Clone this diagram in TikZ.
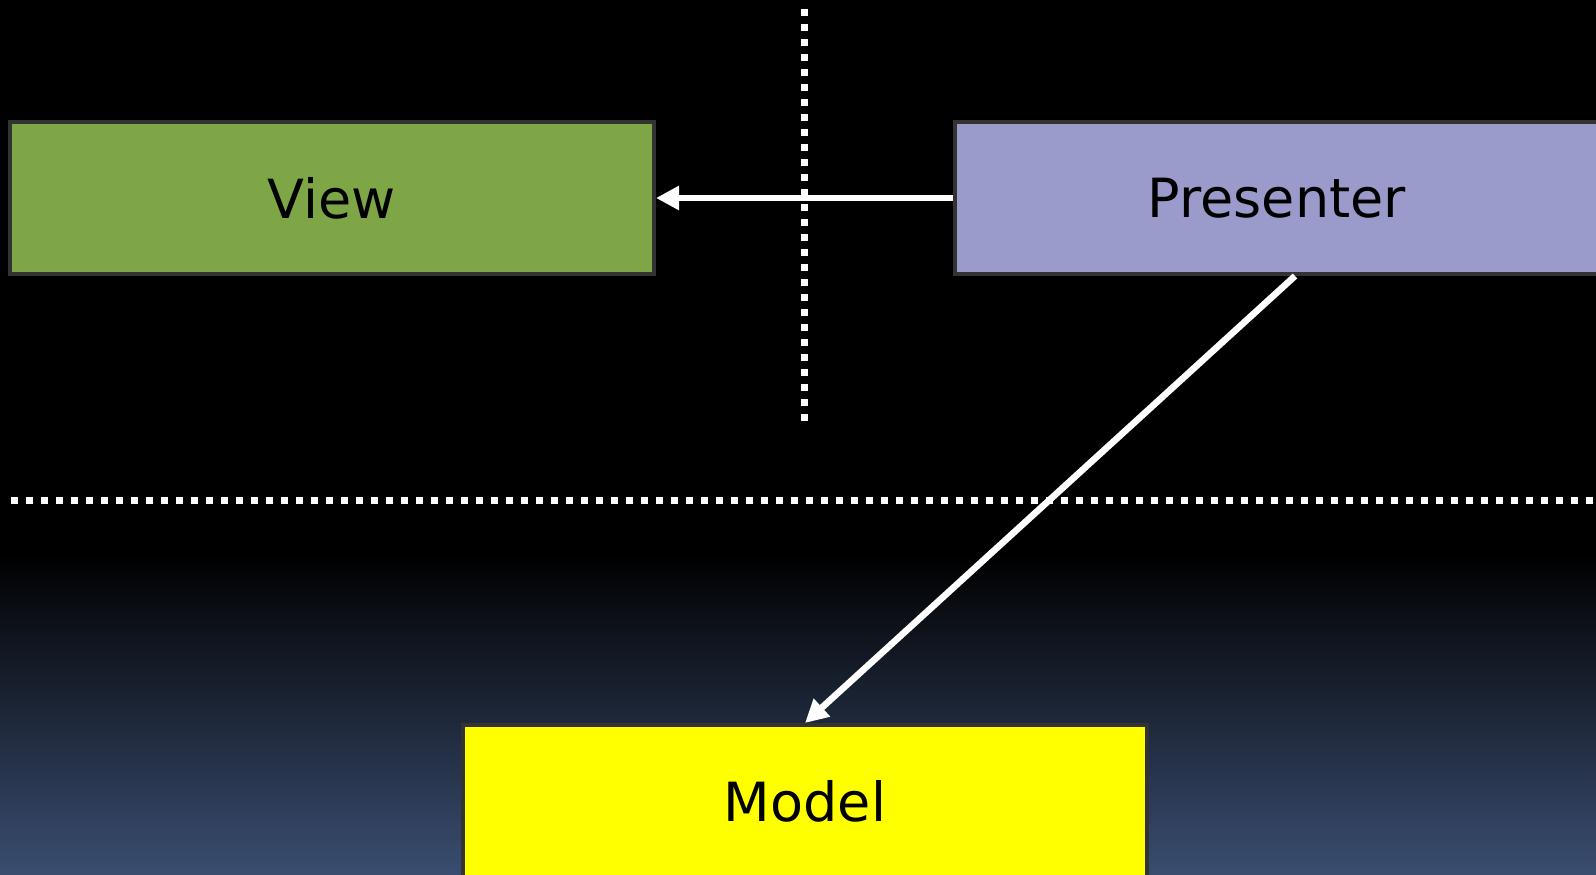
\documentclass[tikz,border=0pt]{standalone}
\usepackage{fontspec}
\setmainfont{DejaVu Sans}
\usepackage{tikz}
\usetikzlibrary{arrows.meta,positioning}
\usepackage{xcolor}
\definecolor{mvpgreen}{RGB}{126,166,71}
\definecolor{mvplilac}{RGB}{154,154,203}
\definecolor{mvpyellow}{RGB}{255,255,0}
\definecolor{mvpedge}{RGB}{51,51,51}
\definecolor{mvpnavy}{RGB}{58,77,112}
\tikzstyle{block} = [draw=mvpedge, line width=2pt, rectangle, minimum width=322pt, minimum height=76pt, font=\fontsize{27pt}{32pt}\selectfont, text=black]
\tikzstyle{arrow} = [line width=3.3pt, white, -{Triangle[length=11.5pt,width=11.5pt]}]
\tikzstyle{divider} = [line width=3.5pt, white, dash pattern=on 3.5pt off 4pt]

\begin{document}
\begin{tikzpicture}[x=0.5pt, y=-0.5pt]
\useasboundingbox (0,0) rectangle (1596,874);
% Background
\fill[black] (0,0) rectangle (1596,874);
\shade[top color=black, bottom color=mvpnavy] (0,553) rectangle (1596,874);

% Dividers
\draw[divider] (804,9) -- (804,422);
\draw[divider] (11,500) -- (1596,500);

% Blocks
\node[block, fill=mvpgreen] (view) at (332,198) {View};
\node[block, fill=mvplilac] (presenter) at (1277,198) {Presenter};
\node[block, fill=mvpyellow, minimum width=342pt] (model) at (805,801) {Model};

% Arrows
\draw[arrow] (presenter.west) -- (view.east);
\draw[arrow] ([xshift=9pt]presenter.south) -- (model.north);
\end{tikzpicture}
\end{document}
